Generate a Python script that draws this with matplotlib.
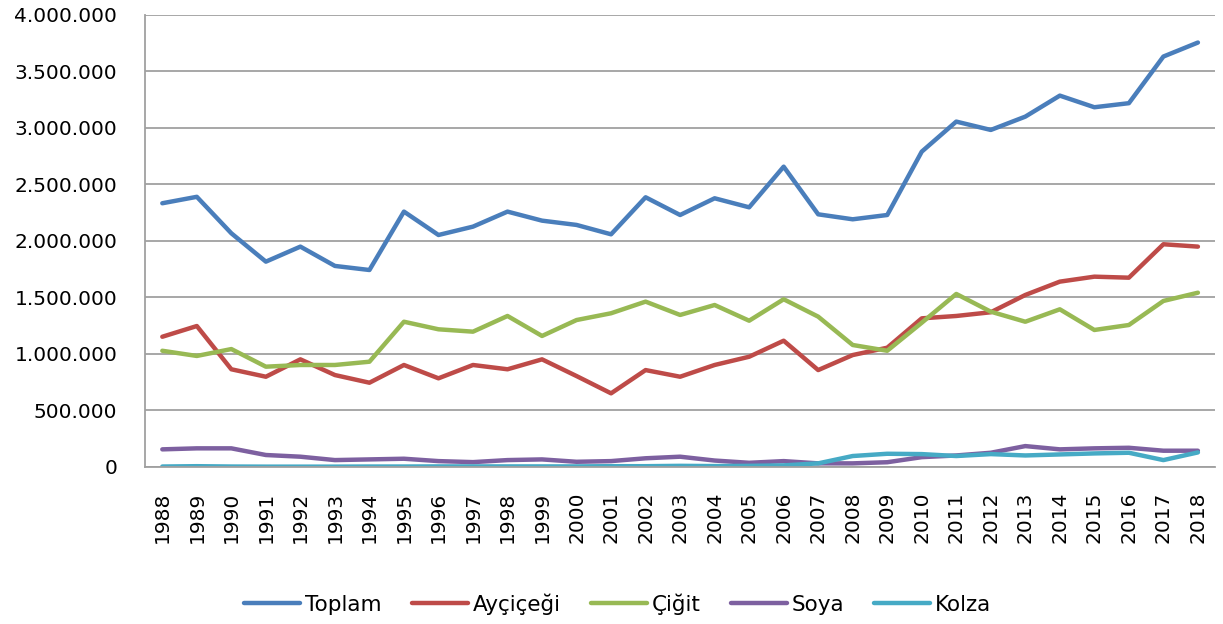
import numpy as np
import matplotlib
matplotlib.use("Agg")
import matplotlib.pyplot as plt
from matplotlib.ticker import FuncFormatter

years = list(range(1988, 2019))

# production (tons)
toplam = [2333000, 2390000, 2067000, 1816000, 1949000, 1778000, 1742000, 2259000,
          2052000, 2126000, 2259000, 2179000, 2141000, 2058000, 2386000, 2229000,
          2377000, 2297000, 2657000, 2235000, 2191000, 2229000, 2790000, 3056000,
          2982000, 3100000, 3286000, 3183000, 3219000, 3632000, 3756000]
aycicegi = [1151000, 1246000, 863000, 797000, 951000, 812000, 744000, 901000,
            783000, 901000, 863000, 951000, 803000, 650000, 856000, 797000,
            901000, 974000, 1116000, 856000, 989000, 1054000, 1314000, 1335000,
            1368000, 1521000, 1639000, 1683000, 1674000, 1970000, 1949000]
cigit = [1027000, 981000, 1042000, 886000, 901000, 901000, 930000, 1284000,
         1217000, 1196000, 1335000, 1158000, 1299000, 1359000, 1462000, 1344000,
         1432000, 1293000, 1483000, 1329000, 1078000, 1027000, 1275000, 1530000,
         1373000, 1284000, 1394000, 1211000, 1255000, 1468000, 1541000]
soya = [154000, 163000, 163000, 104000, 89000, 59000, 65000, 71000,
        50000, 41000, 59000, 65000, 44000, 50000, 75000, 89000,
        55000, 35000, 50000, 30000, 30000, 40000, 85000, 100000,
        124000, 183000, 154000, 163000, 168000, 142000, 142000]
kolza = [2000, 5000, 2000, 1000, 1000, 1000, 2000, 2000,
         3000, 3000, 3000, 3000, 3000, 5000, 5000, 8000,
         6000, 8000, 12000, 30000, 95000, 115000, 112000, 95000,
         112000, 100000, 109000, 118000, 124000, 59000, 127000]

series = [("Toplam", toplam, "#4A7EBB"),
          ("Ayçiçeği", aycicegi, "#BE4B48"),
          ("Çiğit", cigit, "#98B954"),
          ("Soya", soya, "#7D60A0"),
          ("Kolza", kolza, "#46AAC5")]

plt.rcParams["font.family"] = ["DejaVu Sans"]

fig = plt.figure(figsize=(12.23, 6.24), dpi=100)
ax = fig.add_axes([0.1186, 0.252, 0.875, 0.724])

x_pos = np.arange(len(years))
for name, vals, col in series:
    ax.plot(x_pos, vals, color=col, lw=3.2, label=name,
            solid_capstyle="round", solid_joinstyle="round")

ax.set_xlim(-0.5, len(years) - 0.5)
ax.set_ylim(0, 4000000)
ax.set_yticks(np.arange(0, 4000001, 500000))
ax.yaxis.set_major_formatter(FuncFormatter(lambda v, p: f"{int(v):,}".replace(",", ".")))
ax.set_xticks(x_pos)
ax.set_xticklabels(years, rotation=90)

ax.grid(axis="y", color="#A0A0A0", lw=1.3)
ax.set_axisbelow(True)
for s in ["top", "right"]:
    ax.spines[s].set_visible(False)
ax.spines["left"].set_color("#A0A0A0")
ax.spines["bottom"].set_color("#A0A0A0")
ax.spines["left"].set_linewidth(1.3)
ax.spines["bottom"].set_linewidth(1.3)
ax.tick_params(axis="y", length=0, pad=20, labelsize=14.5)
ax.tick_params(axis="x", length=0, pad=18, labelsize=14.5)

# legend along the bottom of the figure
fig.legend(loc="center", bbox_to_anchor=(0.505, 0.032), ncol=5, frameon=False,
           fontsize=15.5, handlelength=2.6, columnspacing=1.4, handletextpad=0.23)

fig.savefig("out.png", dpi=100)
